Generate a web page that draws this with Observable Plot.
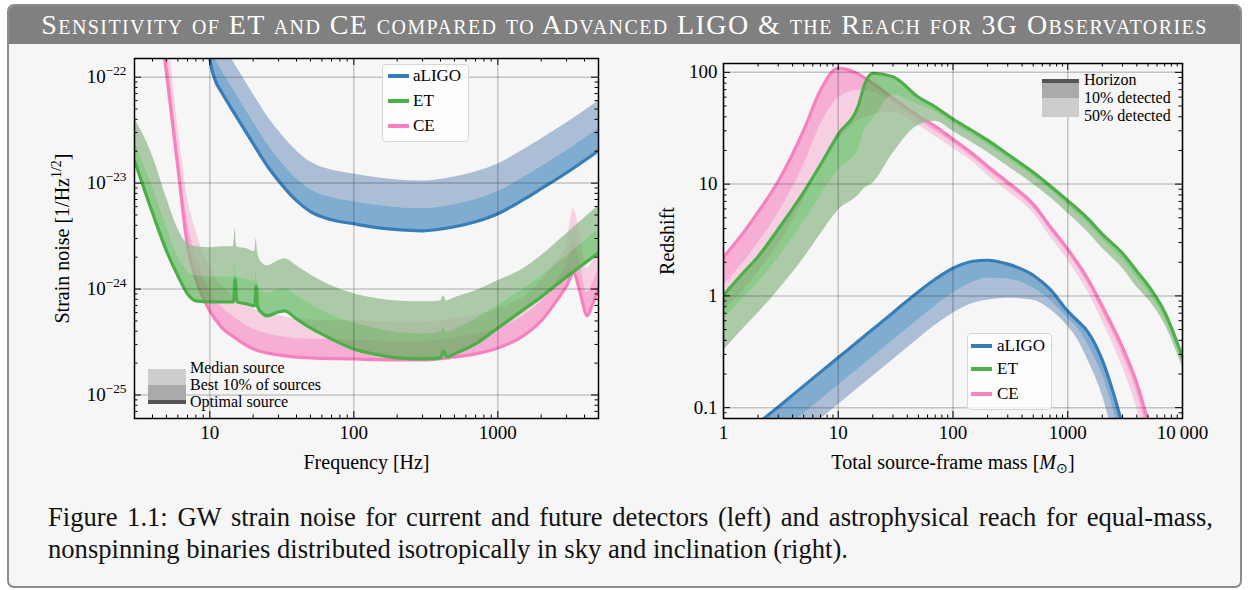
<!DOCTYPE html>
<html>
<head>
<meta charset="utf-8">
<script src="https://cdn.jsdelivr.net/npm/d3@7"></script>
<script src="https://cdn.jsdelivr.net/npm/@observablehq/plot@0.6"></script>
<style>
html,body{margin:0;padding:0;background:#ffffff;}
#page{position:relative;width:1248px;height:590px;overflow:hidden;font-family:"Liberation Serif","Times New Roman",serif;color:#000;}
#box{position:absolute;left:7px;top:4px;width:1231px;height:580px;border:2px solid #8c8c8c;border-radius:7px;background:#f6f6f6;overflow:hidden;}
#titlebar{position:absolute;left:0;top:0;width:100%;height:38px;background:#808080;color:#fff;font-variant:small-caps;font-size:28px;line-height:38px;text-align:center;white-space:nowrap;}
#caption{position:absolute;left:48px;top:501px;width:1165px;font-size:26.6px;line-height:32px;color:#111;}
#caption div{white-space:nowrap;}
.chart{position:absolute;}
.chart svg{background:transparent !important;}
.lgbox{position:absolute;background:rgba(255,255,255,0.8);border:1px solid #d6d6d6;border-radius:4px;box-sizing:border-box;}
.lgtxt{position:absolute;font-size:16px;line-height:14px;white-space:nowrap;color:#000;}
.lgswatch{position:absolute;}
</style>
</head>
<body>
<div id="page">
  <div id="box"><div id="titlebar"><span id="titletext">Sensitivity of ET and CE compared to Advanced LIGO &amp; the Reach for 3G Observatories</span></div></div>
  <div id="left" class="chart" style="left:40px;top:50px;"></div>
  <div id="right" class="chart" style="left:640px;top:50px;"></div>
  <div id="caption"><div><span id="cap1">Figure 1.1: GW strain noise for current and future detectors (left) and astrophysical reach for equal-mass,</span></div><div><span id="cap2">nonspinning binaries distributed isotropically in sky and inclination (right).</span></div></div>
</div>
<script>
// ---------- categories / styling lists ----------
const detectors = ["aLIGO", "ET", "CE"];
const lineColors = ["#377eb8", "#4daf4a", "#f781bf"];
const lightFills = ["#91abc9", "#93b98e", "#f5c3db"];
const leftLegendLabels = ["Median source", "Best 10% of sources", "Optimal source"];
const rightLegendLabels = ["Horizon", "10% detected", "50% detected"];
const legendGreys = ["#cdcdcd", "#aaaaaa", "#555555"];

// ---------- LEFT: strain noise (values are log10 of strain, 1/Hz^1/2) ----------
const aligoFreq = [9.7, 10, 11, 12, 15, 20, 25, 30, 40, 50, 70, 100, 150, 200, 300, 500, 700, 1000, 1500, 2000, 3000, 5000];
const aligoOptimalLog = [-21.56, -21.815, -22.042, -22.136, -22.353, -22.628, -22.836, -22.977, -23.166, -23.270, -23.346, -23.384, -23.422, -23.440, -23.450, -23.412, -23.365, -23.289, -23.157, -23.053, -22.902, -22.694];
const aligoBest10Log = [-21.35, -21.605, -21.832, -21.926, -22.143, -22.418, -22.626, -22.767, -22.956, -23.060, -23.136, -23.174, -23.212, -23.230, -23.240, -23.202, -23.155, -23.079, -22.947, -22.843, -22.692, -22.484];
const aligoMedianLog = [-21.09, -21.345, -21.572, -21.666, -21.883, -22.158, -22.366, -22.507, -22.696, -22.800, -22.876, -22.914, -22.952, -22.970, -22.980, -22.942, -22.895, -22.819, -22.687, -22.583, -22.432, -22.224];

const etFreq = [3, 4, 5, 6, 7, 8, 10, 12, 14.6, 15, 15.4, 18, 20.5, 21, 21.5, 23, 25, 30, 33, 40, 50, 70, 100, 150, 200, 300, 400, 420, 440, 500, 700, 1000, 1500, 2000, 3000, 5000];
const etOptimalLog = [-22.788, -23.280, -23.639, -23.875, -24.045, -24.112, -24.121, -24.121, -24.121, -23.904, -24.121, -24.140, -24.159, -23.970, -24.168, -24.225, -24.253, -24.216, -24.206, -24.282, -24.367, -24.471, -24.565, -24.622, -24.650, -24.660, -24.650, -24.584, -24.641, -24.612, -24.518, -24.367, -24.197, -24.074, -23.885, -23.658];
const etBest10Log = [-22.599, -23.024, -23.403, -23.686, -23.828, -23.875, -23.885, -23.885, -23.885, -23.752, -23.885, -23.904, -23.922, -23.828, -23.932, -24.017, -24.036, -23.998, -23.989, -24.055, -24.140, -24.244, -24.319, -24.376, -24.405, -24.423, -24.405, -24.357, -24.405, -24.376, -24.282, -24.149, -23.998, -23.875, -23.686, -23.431];
const etMedianLog = [-22.391, -22.741, -23.138, -23.431, -23.573, -23.601, -23.611, -23.601, -23.601, -23.431, -23.601, -23.620, -23.648, -23.526, -23.658, -23.752, -23.781, -23.733, -23.715, -23.781, -23.866, -23.970, -24.045, -24.093, -24.112, -24.121, -24.112, -24.064, -24.112, -24.083, -24.017, -23.922, -23.809, -23.686, -23.478, -23.214];

const ceFreq = [4.5, 5, 6, 7, 8, 9, 10, 12, 15, 20, 30, 50, 100, 200, 300, 500, 700, 1000, 1500, 2000, 2500, 3000, 3360, 3700, 4170, 4500, 5000];
const ceOptimalLog = [-21.446, -21.957, -22.854, -23.592, -23.904, -24.083, -24.206, -24.357, -24.461, -24.565, -24.622, -24.650, -24.660, -24.669, -24.669, -24.641, -24.612, -24.556, -24.442, -24.301, -24.130, -23.970, -23.847, -24.017, -24.253, -24.159, -23.989];
const ceBest10Log = [-21.229, -21.701, -22.647, -23.355, -23.686, -23.885, -24.008, -24.159, -24.272, -24.376, -24.442, -24.471, -24.480, -24.490, -24.490, -24.461, -24.423, -24.367, -24.253, -24.112, -23.941, -23.762, -23.544, -23.743, -24.036, -23.960, -23.809];
const ceMedianLog = [-20.992, -21.484, -22.457, -23.138, -23.450, -23.658, -23.790, -23.960, -24.083, -24.187, -24.253, -24.291, -24.301, -24.310, -24.310, -24.282, -24.244, -24.187, -24.074, -23.922, -23.752, -23.563, -23.242, -23.469, -23.809, -23.752, -23.620];

// ---------- RIGHT: redshift reach (values are log10 of redshift) ----------
const aligoMass = [2, 3, 5, 7, 10, 15, 20, 30, 50, 70, 100, 150, 200, 300, 500, 700, 1000, 1200, 1500, 2000, 2500, 3000];
const aligoHorizonLog = [-1.139, -0.993, -0.805, -0.682, -0.552, -0.403, -0.298, -0.150, 0.038, 0.149, 0.248, 0.310, 0.319, 0.284, 0.185, 0.060, -0.137, -0.217, -0.324, -0.575, -0.870, -1.157];
const aligoDet10Log = [-1.389, -1.243, -1.055, -0.933, -0.802, -0.654, -0.548, -0.401, -0.213, -0.092, 0.024, 0.123, 0.158, 0.149, 0.069, -0.038, -0.199, -0.280, -0.441, -0.710, -1.023, -1.336];
const aligoDet50Log = [-1.559, -1.413, -1.225, -1.103, -0.973, -0.824, -0.718, -0.571, -0.383, -0.262, -0.155, -0.065, -0.038, -0.021, -0.038, -0.119, -0.271, -0.378, -0.575, -0.888, -1.246, -1.559];

const ceMass = [1, 1.5, 2, 3, 5, 7, 10, 15, 20, 30, 50, 70, 100, 150, 200, 300, 500, 700, 1000, 1500, 2000, 3000, 4000, 5000];
const ceHorizonLog = [0.346, 0.570, 0.749, 1.026, 1.482, 1.840, 2.037, 1.983, 1.902, 1.768, 1.607, 1.518, 1.402, 1.268, 1.160, 1.017, 0.821, 0.623, 0.418, 0.149, -0.092, -0.459, -0.781, -1.121];
const ceDet10Log = [0.096, 0.301, 0.471, 0.740, 1.169, 1.527, 1.768, 1.840, 1.822, 1.724, 1.571, 1.473, 1.366, 1.232, 1.124, 0.981, 0.784, 0.588, 0.382, 0.105, -0.146, -0.530, -0.870, -1.246];
const ceDet50Log = [-0.128, 0.051, 0.212, 0.453, 0.856, 1.169, 1.392, 1.571, 1.616, 1.643, 1.527, 1.428, 1.321, 1.196, 1.080, 0.936, 0.740, 0.534, 0.319, 0.033, -0.226, -0.638, -1.005, -1.380];

const etMass = [1, 1.5, 2, 3, 5, 7, 10, 15, 17, 20, 30, 50, 70, 100, 150, 200, 300, 500, 700, 1000, 1500, 2000, 3000, 4000, 5000, 7000, 10000];
const etHorizonLog = [0.006, 0.212, 0.351, 0.597, 0.928, 1.173, 1.446, 1.706, 1.893, 1.992, 1.961, 1.777, 1.692, 1.581, 1.473, 1.393, 1.267, 1.106, 0.986, 0.852, 0.691, 0.552, 0.382, 0.221, 0.096, -0.146, -0.548];
const etDet10Log = [-0.217, -0.021, 0.114, 0.337, 0.659, 0.892, 1.124, 1.303, 1.482, 1.571, 1.795, 1.706, 1.643, 1.536, 1.428, 1.348, 1.223, 1.062, 0.945, 0.802, 0.641, 0.498, 0.319, 0.158, 0.033, -0.199, -0.593];
const etDet50Log = [-0.486, -0.289, -0.155, 0.051, 0.337, 0.552, 0.767, 0.901, 0.963, 1.008, 1.276, 1.527, 1.563, 1.473, 1.366, 1.285, 1.160, 0.999, 0.883, 0.740, 0.570, 0.427, 0.248, 0.078, -0.030, -0.253, -0.638];

// ---------- build tables ----------
const rows = (xs, a, b, c) => xs.map((x, i) => ({x, edge: 10 ** a[i], mid: 10 ** b[i], outer: 10 ** c[i]}));
const leftLayers = [
  {rows: rows(aligoFreq, aligoOptimalLog, aligoBest10Log, aligoMedianLog), color: lineColors[0], light: lightFills[0]},
  {rows: rows(ceFreq, ceOptimalLog, ceBest10Log, ceMedianLog), color: lineColors[2], light: lightFills[2]},
  {rows: rows(etFreq, etOptimalLog, etBest10Log, etMedianLog), color: lineColors[1], light: lightFills[1]}
];
const rightLayers = [
  {rows: rows(aligoMass, aligoHorizonLog, aligoDet10Log, aligoDet50Log), color: lineColors[0], light: lightFills[0]},
  {rows: rows(ceMass, ceHorizonLog, ceDet10Log, ceDet50Log), color: lineColors[2], light: lightFills[2]},
  {rows: rows(etMass, etHorizonLog, etDet10Log, etDet50Log), color: lineColors[1], light: lightFills[1]}
];

const NS = "http://www.w3.org/2000/svg";

function chart(o) {
  const innerW = o.width - o.mL - o.mR, innerH = o.height - o.mT - o.mB;
  const isMajor = v => Math.abs(Math.log10(v) - Math.round(Math.log10(v))) < 1e-6;
  const xAll = d3.scaleLog().domain(o.xDomain).ticks();
  const yAll = d3.scaleLog().domain(o.yDomain).ticks();
  const xMaj = xAll.filter(isMajor), xMin = xAll.filter(v => !isMajor(v));
  const yMaj = yAll.filter(isMajor), yMin = yAll.filter(v => !isMajor(v));
  const tk = {stroke: "#000", strokeWidth: 1};
  const marks = [];
  for (const L of o.layers) {
    marks.push(
      Plot.areaY(L.rows, {x: "x", y1: "mid", y2: "outer", fill: L.light, fillOpacity: 0.75, curve: "monotone-x", clip: true}),
      Plot.areaY(L.rows, {x: "x", y1: "edge", y2: "mid", fill: L.color, fillOpacity: 0.62, curve: "monotone-x", clip: true}),
      Plot.lineY(L.rows, {x: "x", y: "edge", stroke: L.color, strokeWidth: 3.2, curve: "monotone-x", clip: true})
    );
  }
  marks.push(
    Plot.ruleX(xMaj, {x: d => d, stroke: "#000", strokeOpacity: 0.2, strokeWidth: 1.5}),
    Plot.ruleY(yMaj, {y: d => d, stroke: "#000", strokeOpacity: 0.2, strokeWidth: 1.5}),
    Plot.ruleX(xMaj, {x: d => d, insetTop: innerH - 7, ...tk}),
    Plot.ruleX(xMaj, {x: d => d, insetBottom: innerH - 7, ...tk}),
    Plot.ruleX(xMin, {x: d => d, insetTop: innerH - 3.5, ...tk}),
    Plot.ruleX(xMin, {x: d => d, insetBottom: innerH - 3.5, ...tk}),
    Plot.ruleY(yMaj, {y: d => d, insetRight: innerW - 7, ...tk}),
    Plot.ruleY(yMaj, {y: d => d, insetLeft: innerW - 7, ...tk}),
    Plot.ruleY(yMin, {y: d => d, insetRight: innerW - 3.5, ...tk}),
    Plot.ruleY(yMin, {y: d => d, insetLeft: innerW - 3.5, ...tk}),
    Plot.frame({stroke: "#000", strokeWidth: 1.5}),
    Plot.text([o.xLabel], {text: d => d, frameAnchor: "bottom", dy: 44, lineAnchor: "middle", textAnchor: "middle", fontSize: 20, fill: "#000"}),
    Plot.text([o.yLabel], {text: d => d, frameAnchor: "left", dx: o.yLabelDx, rotate: -90, lineAnchor: "middle", textAnchor: "middle", fontSize: 20, fill: "#000"})
  );
  return Plot.plot({
    width: o.width, height: o.height,
    marginLeft: o.mL, marginRight: o.mR, marginTop: o.mT, marginBottom: o.mB,
    style: {background: "transparent", fontFamily: "'Liberation Serif', 'Times New Roman', serif", fontSize: "19px", color: "#000", overflow: "visible"},
    x: {type: "log", domain: o.xDomain, ticks: xMaj, tickFormat: o.xFormat, tickSize: 0, tickPadding: o.xPad, label: null},
    y: {type: "log", domain: o.yDomain, ticks: yMaj, tickFormat: o.yFormat, tickSize: 0, tickPadding: o.yPad, label: null},
    marks
  });
}

function rich(svg, placeholder, parts) {
  svg.querySelectorAll("text").forEach(t => {
    if (t.textContent !== placeholder) return;
    t.textContent = "";
    for (const p of parts) {
      const s = document.createElementNS(NS, "tspan");
      s.textContent = p.t;
      if (p.dy) s.setAttribute("dy", p.dy);
      if (p.size) s.setAttribute("font-size", p.size);
      if (p.italic) s.setAttribute("font-style", "italic");
      t.appendChild(s);
    }
  });
}
function superscriptTicks(svg) {
  svg.querySelectorAll("text").forEach(t => {
    const m = /^10\^(-?\d+)$/.exec(t.textContent);
    if (!m) return;
    t.textContent = "10";
    const s = document.createElementNS(NS, "tspan");
    s.setAttribute("dy", "-0.6em");
    s.setAttribute("font-size", "0.7em");
    s.textContent = m[1].replace("-", "\u2212");
    t.appendChild(s);
  });
}

const leftSvg = chart({
  width: 580, height: 420, mL: 94, mR: 22, mT: 8, mB: 52,
  xDomain: [3, 5000], yDomain: [6e-26, 1.5e-22],
  xFormat: d => String(d), yFormat: d => "10^" + Math.round(Math.log10(d)),
  xPad: 7, yPad: 8,
  xLabel: "Frequency [Hz]", yLabel: "Strain noise [1/Hz^(1/2)]", yLabelDx: -72,
  layers: leftLayers
});
document.getElementById("left").appendChild(leftSvg);
superscriptTicks(leftSvg);
rich(leftSvg, "Strain noise [1/Hz^(1/2)]", [{t: "Strain noise [1/Hz"}, {t: "1/2", dy: "-0.55em", size: "0.7em"}, {t: "]", dy: "0.385em"}]);

const rightSvg = chart({
  width: 600, height: 420, mL: 83, mR: 58, mT: 13, mB: 52,
  xDomain: [1, 10000], yDomain: [0.08, 120],
  xFormat: d => d === 10000 ? "10\u2009000" : String(d), yFormat: d => String(d),
  xPad: 7, yPad: 6,
  xLabel: "Total source-frame mass [M_sun]", yLabel: "Redshift", yLabelDx: -56,
  layers: rightLayers
});
document.getElementById("right").appendChild(rightSvg);
rich(rightSvg, "Total source-frame mass [M_sun]", [{t: "Total source-frame mass ["}, {t: "M", italic: true}, {t: "\u2299", dy: "0.3em", size: "0.7em"}, {t: "]", dy: "-0.21em"}]);

// ---------- legends (HTML overlays) ----------
const page = document.getElementById("page");
function el(cls, style, text) {
  const d = document.createElement("div");
  d.className = cls;
  for (const k in style) d.style[k] = style[k];
  if (text) d.textContent = text;
  page.appendChild(d);
  return d;
}
function detectorLegend(left, top, w, h, centers, swX, swW, txtX) {
  el("lgbox", {left: left + "px", top: top + "px", width: w + "px", height: h + "px"});
  detectors.forEach((name, i) => {
    el("lgswatch", {left: swX + "px", top: (centers[i] - 1.75) + "px", width: swW + "px", height: "3.5px", background: lineColors[i]});
    el("lgtxt", {left: txtX + "px", top: (centers[i] - 7) + "px", fontSize: "17px"}, name);
  });
}
detectorLegend(382, 64, 87, 78, [76, 101, 126], 388, 21, 413);
detectorLegend(967, 333, 85, 77, [346, 369, 394], 971, 21, 997);

// left-bottom grey legend (median / best 10% / optimal)
el("lgswatch", {left: "148px", top: "369px", width: "38px", height: "16px", background: legendGreys[0]});
el("lgswatch", {left: "148px", top: "385px", width: "38px", height: "15px", background: legendGreys[1]});
el("lgswatch", {left: "148px", top: "400px", width: "38px", height: "4px", background: legendGreys[2]});
[367.5, 385, 402].forEach((c, i) => el("lgtxt", {left: "190px", top: (c - 7) + "px"}, leftLegendLabels[i]));

// right-top grey legend (horizon / 10% / 50%)
el("lgswatch", {left: "1042px", top: "79px", width: "37px", height: "4px", background: legendGreys[2]});
el("lgswatch", {left: "1042px", top: "83px", width: "37px", height: "15px", background: legendGreys[1]});
el("lgswatch", {left: "1042px", top: "98px", width: "37px", height: "18.5px", background: legendGreys[0]});
[80, 97.7, 115.7].forEach((c, i) => el("lgtxt", {left: "1084px", top: (c - 7) + "px"}, rightLegendLabels[i]));

// ---------- title / caption fitting (layout only) ----------
const titleSpan = document.getElementById("titletext");
const tw = titleSpan.getBoundingClientRect().width;
const tn = titleSpan.textContent.length;
titleSpan.style.letterSpacing = ((1165 - tw) / (tn - 1)) + "px";
const cap1 = document.getElementById("cap1");
const cw = cap1.getBoundingClientRect().width;
const spaces = (cap1.textContent.match(/ /g) || []).length;
cap1.style.wordSpacing = ((1165 - cw) / spaces) + "px";
</script>
</body>
</html>
